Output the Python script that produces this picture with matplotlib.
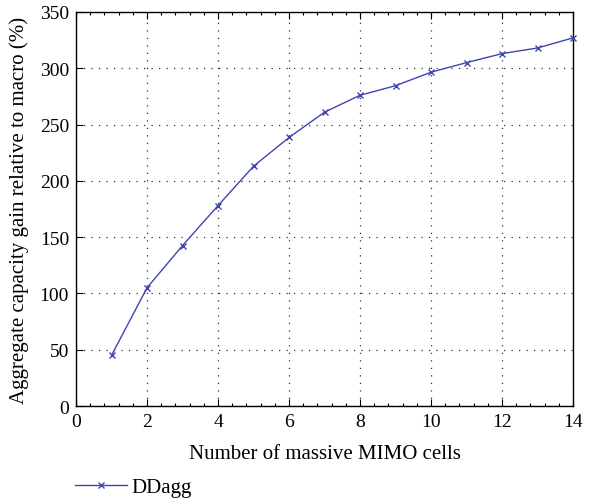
import matplotlib
matplotlib.use("Agg")
import matplotlib.pyplot as plt
from matplotlib.ticker import MultipleLocator

plt.rcParams['font.family'] = ['Liberation Serif', 'DejaVu Serif']

cells = [1, 2, 3, 4, 5, 6, 7, 8, 9, 10, 11, 12, 13, 14]
ddagg = [45, 105, 142.5, 178, 213, 238.5, 261, 276, 284.5, 296.5, 305, 313, 318, 327]

fig = plt.figure(figsize=(5.92, 5.02), dpi=100)
ax = fig.add_axes([0.1284, 0.1892, 0.8396, 0.785])

line, = ax.plot(cells, ddagg, color='#3f45b0', lw=1.0, marker='x', ms=5, mew=1.0,
                label='DDagg', clip_on=False, zorder=3)

ax.set_xlim(0, 14)
ax.set_ylim(0, 350)
ax.xaxis.set_major_locator(MultipleLocator(2))
ax.yaxis.set_major_locator(MultipleLocator(50))
ax.xaxis.set_minor_locator(MultipleLocator(0.4))
ax.tick_params(axis='both', which='both', direction='in', top=True, right=False,
               labelsize=14, width=0.8)
ax.tick_params(axis='both', which='major', length=5, pad=5)
ax.tick_params(axis='x', which='minor', length=2.5)
ax.tick_params(axis='y', which='minor', left=False, right=False)
ax.grid(True, which='major', color='#333333', linestyle=(0, (1, 5)), linewidth=0.9)
for s in ax.spines.values():
    s.set_linewidth(1.0)

ax.set_xlabel('Number of massive MIMO cells', fontsize=15, labelpad=10)
ax.set_ylabel('Aggregate capacity gain relative to macro (%)', fontsize=15, labelpad=8)

fig.legend(handles=[line], loc='lower left', bbox_to_anchor=(0.095, -0.03),
           frameon=False, fontsize=15, handlelength=2.5, handletextpad=0.2)

fig.savefig('out.png', dpi=100)
